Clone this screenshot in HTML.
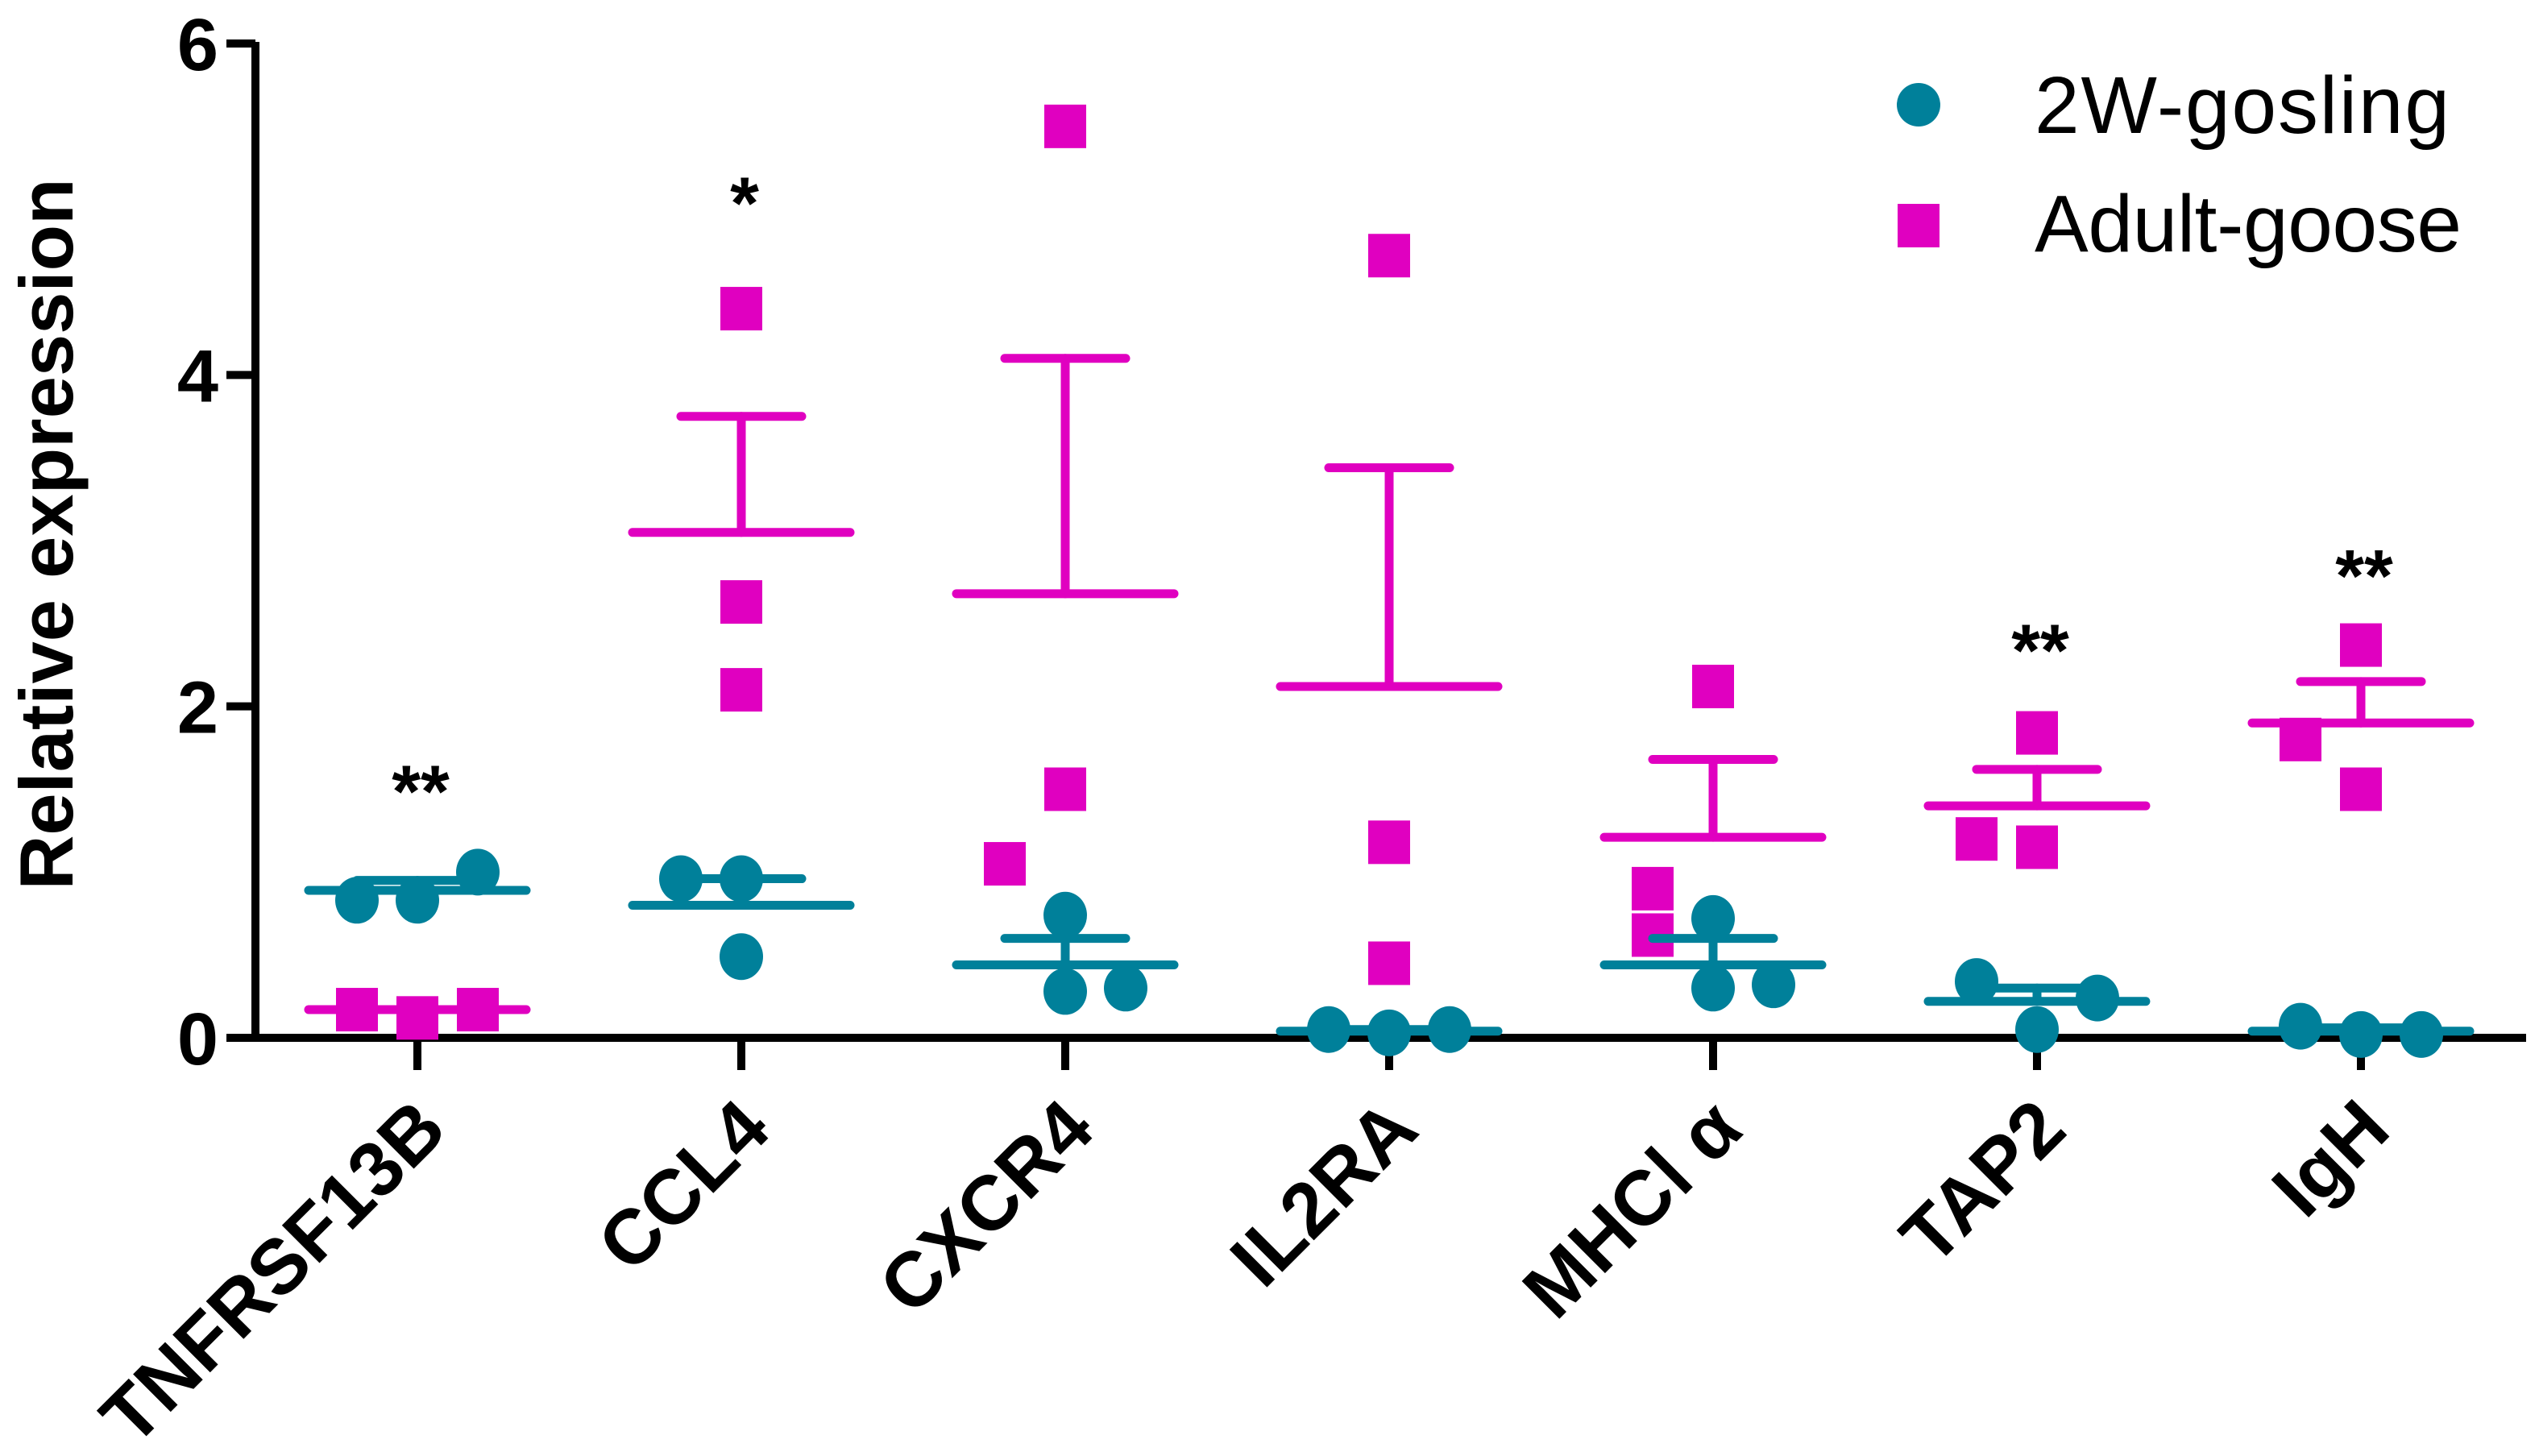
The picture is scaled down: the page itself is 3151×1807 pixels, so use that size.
<!DOCTYPE html>
<html><head><meta charset="utf-8"><style>
html,body{margin:0;padding:0;background:#fff;}
svg{display:block;font-family:"Liberation Sans",Arial,sans-serif;}
</style></head><body>
<svg id="chart" width="3151" height="1807" viewBox="0 0 3151 1807">
<g id="axes"></g>
<g id="marks"></g>
<g id="legend">
  <circle cx="2381" cy="130" r="27" fill="#00809a"/>
  <text x="2525" y="165" font-size="100" fill="#000" textLength="515">2W-gosling</text>
  <rect x="2355" y="253" width="52" height="54" fill="#e000c0"/>
  <text x="2525" y="312" font-size="100" fill="#000" textLength="530">Adult-goose</text>
</g>
</svg>
<script>
const categories = ["TNFRSF13B","CCL4","CXCR4","IL2RA","MHC\u2160 \u03b1","TAP2","IgH"];
const yTicks = [0,2,4,6];
const goslingPoints = [[0.83,0.83,1.0],[0.96,0.96,0.49],[0.74,0.28,0.30],[0.05,0.03,0.05],[0.72,0.30,0.32],[0.34,0.05,0.24],[0.07,0.02,0.02]];
const goslingOffsets = [[-1,0,1],[-1,0,0],[0,0,1],[-1,0,1],[0,0,1],[-1,0,1],[-1,0,1]];
const goslingMean = [0.89,0.80,0.44,0.04,0.44,0.22,0.04];
const goslingSemTop = [0.95,0.96,0.60,0.05,0.60,0.30,0.06];
const adultPoints = [[0.17,0.12,0.17],[4.4,2.63,2.1],[5.5,1.5,1.05],[4.72,1.18,0.45],[2.12,0.9,0.62],[1.84,1.2,1.15],[2.37,1.8,1.5]];
const adultOffsets = [[-1,0,1],[0,0,0],[0,0,-1],[0,0,0],[0,-1,-1],[0,-1,0],[0,-1,0]];
const adultMean = [0.17,3.05,2.68,2.12,1.21,1.40,1.90];
const adultSemTop = [0.17,3.75,4.10,3.44,1.68,1.62,2.15];
const sigLabels = ["**","*","","","","**","**"];
const sigValues = [1.6,5.15,0,0,0,2.45,2.9];

const NS="http://www.w3.org/2000/svg";
const X0=317, Y0=1288, Y6=54, yMax=6;
const y = v => Y0 - (Y0-Y6)*v/yMax;
const x = i => 518 + 402*i;
const OFF=75, TEAL="#00809a", MAG="#e000c0";
function mk(tag, attrs, parent){const e=document.createElementNS(NS,tag);for(const k in attrs)e.setAttribute(k,attrs[k]);parent.appendChild(e);return e;}
const axes=document.getElementById('axes'), marks=document.getElementById('marks');

let e=mk('line',{x1:X0,y1:y(yMax)-2,x2:X0,y2:Y0+5,stroke:'#000','stroke-width':10},axes);


e=mk('line',{x1:X0-5,y1:Y0,x2:3135,y2:Y0,stroke:'#000','stroke-width':10},axes);


yTicks.forEach(t=>{
  let l=mk('line',{x1:281,y1:y(t),x2:X0,y2:y(t),stroke:'#000','stroke-width':10},axes);
  
  
  let tx=mk('text',{x:271,y:y(t)+33,'text-anchor':'end','font-size':92,'font-weight':'bold'},axes);
  tx.textContent=t;
  
  
});
let yt=mk('text',{x:0,y:0,'text-anchor':'middle','font-size':94,'font-weight':'bold',transform:'translate(90,663) rotate(-90)'},axes);
yt.textContent='Relative expression';



categories.forEach((c,i)=>{
  const cx=x(i);
  let l=mk('line',{x1:cx,y1:Y0,x2:cx,y2:Y0+40,stroke:'#000','stroke-width':10},axes);
  
  
  let tx=mk('text',{x:0,y:0,'text-anchor':'end','font-size':96,'font-weight':'bold',transform:`translate(${cx+40},${Y0+118}) rotate(-45)`},axes);
  tx.textContent=c;
  
  

  adultPoints[i].forEach((v,j)=>{
    let r=mk('rect',{x:cx+adultOffsets[i][j]*OFF-26,y:y(v)-27,width:52,height:54,fill:MAG},marks);
    
    
  });
  goslingPoints[i].forEach((v,j)=>{
    let r=mk('ellipse',{cx:cx+goslingOffsets[i][j]*OFF,cy:y(v),rx:27,ry:29,fill:TEAL},marks);
    
    
  });
  [[adultMean,adultSemTop,MAG,'adult-goose'],[goslingMean,goslingSemTop,TEAL,'gosling']].forEach(([m,s,col,nm])=>{
    let g=mk('g',{stroke:col,'stroke-width':11,'stroke-linecap':'round'},marks);
    
    
    mk('line',{x1:cx-135,y1:y(m[i]),x2:cx+135,y2:y(m[i])},g);
    mk('line',{x1:cx,y1:y(m[i]),x2:cx,y2:y(s[i])},g);
    mk('line',{x1:cx-75,y1:y(s[i]),x2:cx+75,y2:y(s[i])},g);
  });
  if(sigLabels[i]){
    let st=mk('text',{x:cx+4,y:y(sigValues[i])+55,'text-anchor':'middle','font-size':92,'font-weight':'bold',fill:'#000'},marks);
    st.textContent=sigLabels[i];
    
    
  }
});
</script>
</body></html>
